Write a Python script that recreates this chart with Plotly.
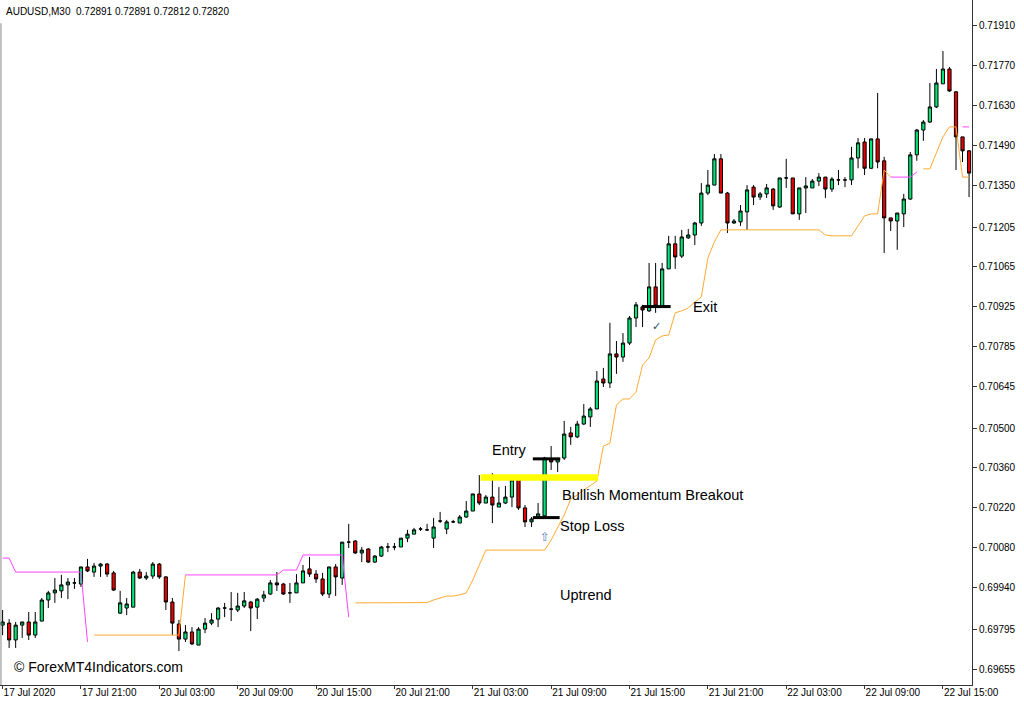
import plotly.graph_objects as go

# ---------------- data (AUDUSD, M30) ----------------
bar_index = list(range(149))

opens = [
    0.69809, 0.69816, 0.69757, 0.69809, 0.69820, 0.69774, 0.69823, 0.69897, 0.69922, 0.69929,
    0.69950, 0.69957, 0.69953, 0.70013, 0.69995, 0.70016, 0.70023, 0.69992, 0.69851, 0.69869,
    0.69872, 0.69995, 0.69974, 0.69981, 0.70023, 0.69978, 0.69890, 0.69813, 0.69760, 0.69785,
    0.69739, 0.69795, 0.69816, 0.69830, 0.69869, 0.69865, 0.69862, 0.69876, 0.69890, 0.69872,
    0.69904, 0.69918, 0.69957, 0.69953, 0.69922, 0.69922, 0.69957, 0.70006, 0.69988, 0.69971,
    0.69918, 0.70013, 0.69974, 0.70100, 0.70104, 0.70062, 0.70076, 0.70030, 0.70051, 0.70083,
    0.70083, 0.70083, 0.70114, 0.70128, 0.70146, 0.70143, 0.70114, 0.70174, 0.70146, 0.70171,
    0.70167, 0.70188, 0.70209, 0.70269, 0.70237, 0.70258, 0.70223, 0.70237, 0.70258, 0.70321,
    0.70220, 0.70171, 0.70188, 0.70192, 0.70392, 0.70381, 0.70395, 0.70483, 0.70469, 0.70514,
    0.70539, 0.70567, 0.70672, 0.70658, 0.70760, 0.70749, 0.70798, 0.70886, 0.70925, 0.70911,
    0.70995, 0.70925, 0.71058, 0.71146, 0.71103, 0.71167, 0.71177, 0.71219, 0.71324, 0.71352,
    0.71444, 0.71324, 0.71219, 0.71223, 0.71258, 0.71345, 0.71310, 0.71321, 0.71338, 0.71275,
    0.71377, 0.71377, 0.71251, 0.71342, 0.71342, 0.71366, 0.71380, 0.71338, 0.71370, 0.71370,
    0.71370, 0.71447, 0.71503, 0.71411, 0.71514, 0.71437, 0.71237, 0.71226, 0.71251, 0.71303,
    0.71458, 0.71545, 0.71573, 0.71626, 0.71707, 0.71759, 0.71679, 0.71521, 0.71472,
]

highs = [
    0.69862, 0.69830, 0.69820, 0.69820, 0.69855, 0.69855, 0.69904, 0.69929, 0.69974, 0.69985,
    0.69974, 0.69974, 0.70013, 0.70041, 0.70027, 0.70027, 0.70027, 0.69999, 0.69929, 0.69904,
    0.69999, 0.70006, 0.69995, 0.70030, 0.70027, 0.69981, 0.69904, 0.69827, 0.69809, 0.69802,
    0.69802, 0.69834, 0.69851, 0.69872, 0.69887, 0.69925, 0.69922, 0.69925, 0.69894, 0.69904,
    0.69929, 0.69967, 0.69995, 0.69957, 0.69957, 0.69988, 0.70020, 0.70048, 0.70002, 0.69992,
    0.70013, 0.70023, 0.70100, 0.70164, 0.70107, 0.70083, 0.70079, 0.70055, 0.70086, 0.70097,
    0.70097, 0.70114, 0.70143, 0.70150, 0.70153, 0.70164, 0.70185, 0.70206, 0.70178, 0.70178,
    0.70195, 0.70244, 0.70269, 0.70335, 0.70265, 0.70342, 0.70293, 0.70297, 0.70325, 0.70325,
    0.70230, 0.70188, 0.70237, 0.70399, 0.70437, 0.70395, 0.70525, 0.70504, 0.70525, 0.70584,
    0.70574, 0.70700, 0.70711, 0.70869, 0.70805, 0.70833, 0.70893, 0.70942, 0.70932, 0.71079,
    0.71079, 0.71079, 0.71174, 0.71174, 0.71195, 0.71198, 0.71223, 0.71359, 0.71405, 0.71461,
    0.71461, 0.71328, 0.71233, 0.71282, 0.71352, 0.71352, 0.71328, 0.71356, 0.71342, 0.71377,
    0.71444, 0.71377, 0.71342, 0.71380, 0.71373, 0.71394, 0.71380, 0.71380, 0.71405, 0.71380,
    0.71486, 0.71517, 0.71517, 0.71514, 0.71675, 0.71451, 0.71237, 0.71254, 0.71321, 0.71468,
    0.71549, 0.71580, 0.71710, 0.71759, 0.71822, 0.71766, 0.71682, 0.71521, 0.71475,
]

lows = [
    0.69774, 0.69729, 0.69729, 0.69764, 0.69757, 0.69764, 0.69823, 0.69869, 0.69887, 0.69904,
    0.69900, 0.69936, 0.69943, 0.69995, 0.69978, 0.69978, 0.69978, 0.69929, 0.69848, 0.69844,
    0.69872, 0.69971, 0.69967, 0.69971, 0.69971, 0.69862, 0.69774, 0.69718, 0.69750, 0.69739,
    0.69739, 0.69781, 0.69809, 0.69802, 0.69837, 0.69823, 0.69855, 0.69869, 0.69788, 0.69830,
    0.69890, 0.69915, 0.69929, 0.69915, 0.69887, 0.69922, 0.69957, 0.69978, 0.69957, 0.69911,
    0.69904, 0.69911, 0.69950, 0.70079, 0.70058, 0.70030, 0.70027, 0.70027, 0.70048, 0.70065,
    0.70072, 0.70083, 0.70100, 0.70128, 0.70139, 0.70139, 0.70079, 0.70167, 0.70128, 0.70167,
    0.70167, 0.70185, 0.70209, 0.70230, 0.70237, 0.70167, 0.70223, 0.70234, 0.70223, 0.70213,
    0.70153, 0.70153, 0.70185, 0.70188, 0.70353, 0.70346, 0.70388, 0.70441, 0.70465, 0.70511,
    0.70504, 0.70567, 0.70644, 0.70640, 0.70690, 0.70732, 0.70791, 0.70854, 0.70854, 0.70907,
    0.70904, 0.70925, 0.71058, 0.71058, 0.71096, 0.71163, 0.71142, 0.71209, 0.71317, 0.71352,
    0.71324, 0.71184, 0.71216, 0.71209, 0.71195, 0.71282, 0.71300, 0.71307, 0.71265, 0.71272,
    0.71342, 0.71251, 0.71230, 0.71254, 0.71342, 0.71349, 0.71307, 0.71328, 0.71352, 0.71345,
    0.71352, 0.71411, 0.71387, 0.71408, 0.71411, 0.71114, 0.71191, 0.71125, 0.71205, 0.71300,
    0.71437, 0.71507, 0.71570, 0.71622, 0.71707, 0.71679, 0.71405, 0.71433, 0.71310,
]

closes = [
    0.69820, 0.69757, 0.69809, 0.69820, 0.69774, 0.69820, 0.69897, 0.69922, 0.69932, 0.69950,
    0.69960, 0.69957, 0.70013, 0.69999, 0.70016, 0.70023, 0.69988, 0.69932, 0.69887, 0.69883,
    0.69995, 0.69974, 0.69981, 0.70023, 0.69978, 0.69890, 0.69816, 0.69760, 0.69785, 0.69743,
    0.69795, 0.69816, 0.69827, 0.69869, 0.69869, 0.69865, 0.69876, 0.69894, 0.69869, 0.69900,
    0.69915, 0.69957, 0.69950, 0.69918, 0.69922, 0.69957, 0.69999, 0.69988, 0.69971, 0.69918,
    0.70013, 0.69978, 0.70100, 0.70100, 0.70062, 0.70072, 0.70030, 0.70051, 0.70083, 0.70083,
    0.70083, 0.70114, 0.70128, 0.70143, 0.70146, 0.70143, 0.70153, 0.70174, 0.70171, 0.70171,
    0.70188, 0.70209, 0.70269, 0.70237, 0.70258, 0.70230, 0.70237, 0.70258, 0.70318, 0.70220,
    0.70171, 0.70181, 0.70199, 0.70395, 0.70381, 0.70392, 0.70479, 0.70469, 0.70514, 0.70542,
    0.70567, 0.70665, 0.70658, 0.70760, 0.70749, 0.70798, 0.70886, 0.70932, 0.70914, 0.70995,
    0.70928, 0.71058, 0.71146, 0.71100, 0.71170, 0.71177, 0.71219, 0.71324, 0.71352, 0.71444,
    0.71324, 0.71219, 0.71226, 0.71261, 0.71335, 0.71310, 0.71321, 0.71342, 0.71279, 0.71377,
    0.71377, 0.71251, 0.71342, 0.71349, 0.71366, 0.71380, 0.71338, 0.71373, 0.71370, 0.71370,
    0.71447, 0.71500, 0.71411, 0.71514, 0.71433, 0.71237, 0.71226, 0.71254, 0.71303, 0.71458,
    0.71545, 0.71573, 0.71626, 0.71710, 0.71759, 0.71682, 0.71521, 0.71472, 0.71394,
]

# trailing stop of the trend indicator (magenta = down, orange = up)
N = None
down_stop = [
    0.70044, 0.70044, 0.69995, 0.69995, 0.69995, 0.69995, 0.69995, 0.69995, 0.69995, 0.69995,
    0.69995, 0.69995, 0.69995, 0.69750, N, N, N, N, N, N,
    N, N, N, N, N, N, N, N, 0.69985, 0.69985,
    0.69985, 0.69985, 0.69985, 0.69985, 0.69985, 0.69985, 0.69985, 0.69985, 0.69985, 0.69985,
    0.69985, 0.69985, 0.69985, 0.70002, 0.70002, 0.70002, 0.70055, 0.70055, 0.70055, 0.70055,
    0.70055, 0.70055, 0.70055, 0.69837, N, N, N, N, N, N,
    N, N, N, N, N, N, N, N, N, N,
    N, N, N, N, N, N, N, N, N, N,
    N, N, N, N, N, N, N, N, N, N,
    N, N, N, N, N, N, N, N, N, N,
    N, N, N, N, N, N, N, N, N, N,
    N, N, N, N, N, N, N, N, N, N,
    N, N, N, N, N, N, N, N, N, N,
    N, N, N, N, N, N, 0.71380, 0.71380, 0.71380, 0.71380,
    0.71398, N, N, N, N, N, N, 0.71556, 0.71556,
]

up_stop = [
    N, N, N, N, N, N, N, N, N, N,
    N, N, N, N, 0.69774, 0.69774, 0.69774, 0.69774, 0.69774, 0.69774,
    0.69774, 0.69774, 0.69774, 0.69774, 0.69774, 0.69774, 0.69774, 0.69774, 0.69985, N,
    N, N, N, N, N, N, N, N, N, N,
    N, N, N, N, N, N, N, N, N, N,
    N, N, N, N, 0.69887, 0.69887, 0.69887, 0.69887, 0.69887, 0.69887,
    0.69887, 0.69887, 0.69887, 0.69887, 0.69887, 0.69888, 0.69897, 0.69904, 0.69911, 0.69911,
    0.69915, 0.69922, 0.69967, 0.70020, 0.70072, 0.70072, 0.70072, 0.70072, 0.70072, 0.70072,
    0.70072, 0.70072, 0.70072, 0.70072, 0.70107, 0.70153, 0.70195, 0.70251, 0.70265, 0.70283,
    0.70300, 0.70314, 0.70437, 0.70447, 0.70581, 0.70602, 0.70602, 0.70626, 0.70721, 0.70746,
    0.70809, 0.70823, 0.70826, 0.70904, 0.70911, 0.70921, 0.70942, 0.70960, 0.71096, 0.71153,
    0.71195, 0.71195, 0.71195, 0.71195, 0.71195, 0.71195, 0.71195, 0.71195, 0.71195, 0.71195,
    0.71195, 0.71195, 0.71195, 0.71195, 0.71195, 0.71195, 0.71177, 0.71174, 0.71174, 0.71174,
    0.71174, 0.71209, 0.71244, 0.71251, 0.71251, 0.71405, 0.71380, N, N, N,
    N, 0.71409, 0.71409, 0.71465, 0.71521, 0.71556, 0.71556, 0.71380, 0.71380,
]

x_tick_bars = [0, 12, 24, 36, 48, 60, 72, 84, 96, 108, 120, 132, 144]
x_tick_labels = ["17 Jul 2020", "17 Jul 21:00", "20 Jul 03:00", "20 Jul 09:00", "20 Jul 15:00",
                 "20 Jul 21:00", "21 Jul 03:00", "21 Jul 09:00", "21 Jul 15:00", "21 Jul 21:00",
                 "22 Jul 03:00", "22 Jul 09:00", "22 Jul 15:00"]
y_tick_labels = ["0.71910", "0.71770", "0.71630", "0.71490", "0.71350", "0.71205", "0.71065",
                 "0.70925", "0.70785", "0.70645", "0.70500", "0.70360", "0.70220", "0.70080",
                 "0.69940", "0.69795", "0.69655"]

header_text = "AUDUSD,M30  0.72891 0.72891 0.72812 0.72820"

# trade annotations (bar index ranges and price levels)
breakout_zone = {"bar0": 73.2, "bar1": 91.2, "low": 0.70315, "high": 0.70338}
entry_level = {"bar0": 81.2, "bar1": 85.4, "price": 0.70392}
stop_level = {"bar0": 81.2, "bar1": 85.3, "price": 0.70186}
exit_level = {"bar0": 97.9, "bar1": 102.3, "price": 0.70926}

text_labels = [
    ("Entry", 74.6, 0.70423),
    ("Bullish Momentum Breakout", 85.3, 0.70264),
    ("Stop Loss", 85.1, 0.70157),
    ("Uptrend", 85.0, 0.69915),
    ("Exit", 105.4, 0.70925),
]

# ---------------- figure ----------------
FONT = "Liberation Sans, Arial, sans-serif"
fig = go.Figure()

fig.add_trace(go.Scatter(x=bar_index, y=up_stop, mode="lines",
                         line=dict(color="#FFAA33", width=1), connectgaps=False,
                         hoverinfo="skip"))
fig.add_trace(go.Scatter(x=bar_index, y=down_stop, mode="lines",
                         line=dict(color="#FF44FF", width=1), connectgaps=False,
                         hoverinfo="skip"))

fig.add_trace(go.Candlestick(
    x=bar_index, open=opens, high=highs, low=lows, close=closes,
    increasing=dict(line=dict(color="#000000", width=1), fillcolor="#00E676"),
    decreasing=dict(line=dict(color="#000000", width=1), fillcolor="#E60000"),
    whiskerwidth=0,
))

shapes = [
    dict(type="rect", xref="x", yref="y",
         x0=breakout_zone["bar0"], x1=breakout_zone["bar1"],
         y0=breakout_zone["low"], y1=breakout_zone["high"],
         fillcolor="#FFFF00", line=dict(width=0), layer="above"),
]
for lvl in (entry_level, stop_level, exit_level):
    shapes.append(dict(type="line", xref="x", yref="y", x0=lvl["bar0"], x1=lvl["bar1"],
                       y0=lvl["price"], y1=lvl["price"],
                       line=dict(color="#000000", width=3), layer="above"))
# left frame line of the chart window
shapes.append(dict(type="line", xref="paper", yref="paper", x0=0.001, x1=0.001,
                   y0=0, y1=0.966, line=dict(color="#888888", width=1)))

annotations = []
for txt, bx, py in text_labels:
    annotations.append(dict(x=bx, y=py, xref="x", yref="y", text=txt, showarrow=False,
                            xanchor="left", yanchor="middle",
                            font=dict(family=FONT, size=14.5, color="#000000")))
annotations.append(dict(x=83.1, y=0.70118, xref="x", yref="y", text="⇧", showarrow=False,
                        xanchor="center", yanchor="middle",
                        font=dict(family="DejaVu Sans", size=12, color="#5A7EC0")))
annotations.append(dict(x=100.1, y=0.70856, xref="x", yref="y", text="✓", showarrow=False,
                        xanchor="center", yanchor="middle",
                        font=dict(family="DejaVu Sans", size=11, color="#2E4A6E")))
annotations.append(dict(x=0.004, y=0.9825, xref="paper", yref="paper", text=header_text,
                        showarrow=False, xanchor="left", yanchor="middle",
                        font=dict(family=FONT, size=10, color="#000000")))
annotations.append(dict(x=0.012, y=0.026, xref="paper", yref="paper",
                        text="© ForexMT4Indicators.com", showarrow=False,
                        xanchor="left", yanchor="middle",
                        font=dict(family=FONT, size=14, color="#000000")))

fig.update_layout(
    width=1024, height=705,
    margin=dict(l=0, r=52, t=0, b=20, autoexpand=False),
    paper_bgcolor="white", plot_bgcolor="white",
    showlegend=False,
    shapes=shapes, annotations=annotations,
    xaxis=dict(range=[-0.4, 148.45], showgrid=False, zeroline=False, automargin=False,
               showline=True, linecolor="#333333", linewidth=1,
               ticks="outside", ticklen=3, tickcolor="#333333",
               tickvals=x_tick_bars, ticktext=x_tick_labels,
               ticklabelposition="outside right", ticklabelstandoff=-2,
               tickfont=dict(family=FONT, size=10, color="#000000"),
               rangeslider=dict(visible=False), fixedrange=True),
    yaxis=dict(side="right", range=[0.69599, 0.72001], showgrid=False, zeroline=False,
               automargin=False,
               showline=True, linecolor="#333333", linewidth=1,
               ticks="outside", ticklen=4, tickcolor="#333333",
               tickvals=[float(v) for v in y_tick_labels], ticktext=y_tick_labels,
               tickfont=dict(family=FONT, size=10, color="#000000"), fixedrange=True),
)

fig.write_html(
    "out.html",
    config={"displayModeBar": False},
    post_script="document.body.style.margin='0px';document.body.style.overflow='hidden';",
)
